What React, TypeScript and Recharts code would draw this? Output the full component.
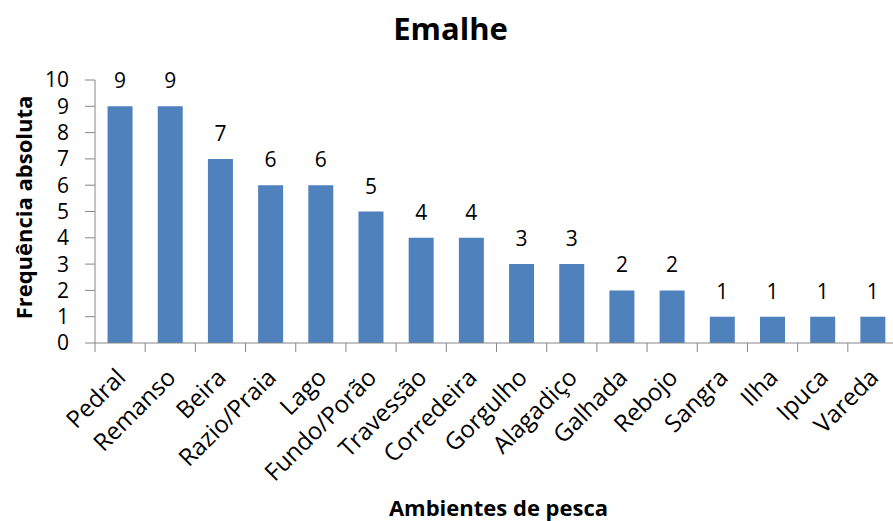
import { BarChart, Bar, XAxis, YAxis, LabelList, Label } from "recharts";

const categories = [
  "Pedral",
  "Remanso",
  "Beira",
  "Razio/Praia",
  "Lago",
  "Fundo/Porão",
  "Travessão",
  "Corredeira",
  "Gorgulho",
  "Alagadiço",
  "Galhada",
  "Rebojo",
  "Sangra",
  "Ilha",
  "Ipuca",
  "Vareda",
];
const frequencies = [9, 9, 7, 6, 6, 5, 4, 4, 3, 3, 2, 2, 1, 1, 1, 1];
const yTicks = [0, 1, 2, 3, 4, 5, 6, 7, 8, 9, 10];

const data = categories.map((name, i) => ({ name, value: frequencies[i] }));

const FONT = "'Open Sans', 'DejaVu Sans', sans-serif";
const AXIS_GRAY = "#868686";
const CHART_W = 900;
const PLOT_LEFT = 95;
const PLOT_RIGHT = 898;
const BAND = (PLOT_RIGHT - PLOT_LEFT) / categories.length;

function CategoryTick(props: any) {
  const { x, y, payload, index } = props;
  const tx = x + 7;
  const ty = y + 27;
  return (
    <g>
      {/* Excel-style tick marks sit on category boundaries */}
      <line x1={x - BAND / 2} y1={y - 9} x2={x - BAND / 2} y2={y} stroke={AXIS_GRAY} />
      {index === categories.length - 1 && (
        <line x1={x + BAND / 2} y1={y - 9} x2={x + BAND / 2} y2={y} stroke={AXIS_GRAY} />
      )}
      <text
        x={tx}
        y={ty}
        textAnchor="end"
        fontSize={24}
        fontFamily={FONT}
        fill="#000"
        transform={`rotate(-45, ${tx}, ${ty})`}
      >
        {payload.value}
      </text>
    </g>
  );
}

export default function App() {
  return (
    <div
      style={{
        position: "fixed",
        top: 0,
        left: 0,
        width: 893,
        height: 521,
        overflow: "hidden",
        background: "#fff",
      }}
    >
      <div
        style={{
          position: "absolute",
          top: 0,
          left: 0,
          width: 893,
          textAlign: "center",
          fontFamily: FONT,
          fontWeight: 700,
          fontSize: 31,
          lineHeight: "56px",
          paddingLeft: 8,
          boxSizing: "border-box",
          color: "#000",
        }}
      >
        Emalhe
      </div>
      <div style={{ position: "absolute", top: 0, left: 0 }}>
        <BarChart
          width={CHART_W}
          height={521}
          data={data}
          margin={{ top: 80, right: CHART_W - PLOT_RIGHT, bottom: 0, left: 0 }}
          barCategoryGap="25%"
        >
          <XAxis
            dataKey="name"
            interval={0}
            height={178}
            tickLine={false}
            tickSize={9}
            tickMargin={0}
            axisLine={{ stroke: AXIS_GRAY }}
            tick={<CategoryTick />}
          >
            <Label
              content={(p: any) => {
                const vb = p.viewBox;
                return (
                  <text
                    x={vb.x + vb.width / 2 + 2}
                    y={vb.y + 173}
                    textAnchor="middle"
                    fontSize={22}
                    fontWeight={700}
                    fontFamily={FONT}
                    fill="#000"
                  >
                    Ambientes de pesca
                  </text>
                );
              }}
            />
          </XAxis>
          <YAxis
            width={PLOT_LEFT}
            domain={[0, 10]}
            ticks={yTicks}
            interval={0}
            tickSize={10}
            tickMargin={16}
            axisLine={{ stroke: AXIS_GRAY }}
            tickLine={{ stroke: AXIS_GRAY }}
            tick={{ fontSize: 21, fontFamily: FONT, fill: "#000" }}
          >
            <Label
              content={(p: any) => {
                const vb = p.viewBox;
                const cx = 32;
                const cy = vb.y + vb.height / 2 - 4;
                return (
                  <text
                    x={cx}
                    y={cy}
                    textAnchor="middle"
                    fontSize={22}
                    fontWeight={700}
                    fontFamily={FONT}
                    fill="#000"
                    transform={`rotate(-90, ${cx}, ${cy})`}
                  >
                    Frequência absoluta
                  </text>
                );
              }}
            />
          </YAxis>
          <Bar dataKey="value" fill="#4f81bd" isAnimationActive={false}>
            <LabelList
              dataKey="value"
              position="top"
              offset={18}
              fontSize={21}
              fontFamily={FONT}
              fill="#000"
            />
          </Bar>
        </BarChart>
      </div>
    </div>
  );
}
